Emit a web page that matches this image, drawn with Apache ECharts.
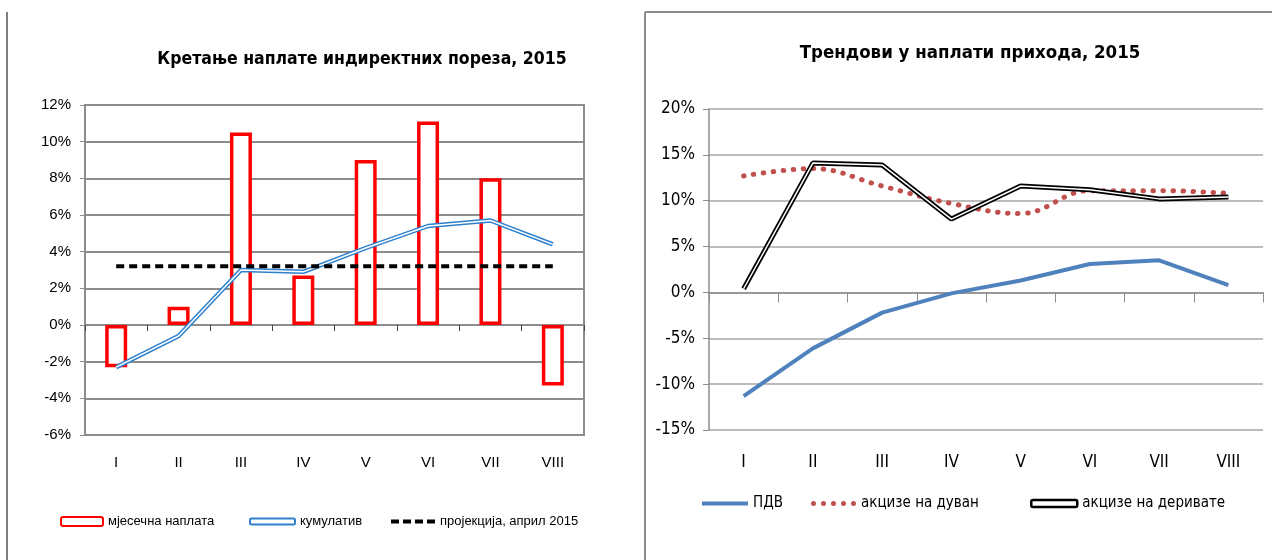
<!DOCTYPE html>
<html>
<head>
<meta charset="utf-8">
<script src="https://cdn.jsdelivr.net/npm/echarts@6/dist/echarts.min.js"></script>
<style>
html, body { margin: 0; padding: 0; background: #fff; }
#main { width: 1272px; height: 560px; }
</style>
</head>
<body>
<div id="main"></div>
<script>
var myChart = echarts.init(document.getElementById('main'));

// months (both charts)
var months = ['I', 'II', 'III', 'IV', 'V', 'VI', 'VII', 'VIII'];
// left chart
var monthly = [-2.3, 1.0, 10.5, 2.7, 9.0, 11.1, 8.0, -3.3];
var cumulative = [-2.3, -0.6, 3.0, 2.9, 4.2, 5.4, 5.7, 4.4];
var projection = [3.2, 3.2, 3.2, 3.2, 3.2, 3.2, 3.2, 3.2];
// right chart
var vat = [-11.3, -6.1, -2.2, -0.1, 1.3, 3.1, 3.5, 0.8];
var tobacco = [12.7, 13.5, 11.6, 9.7, 8.6, 11.1, 11.1, 10.8];
var fuel = [0.4, 14.1, 13.9, 8.0, 11.6, 11.2, 10.2, 10.4];

var leftNames = ['мјесечна наплата', 'кумулатив', 'пројекција, април 2015'];
var rightNames = ['ПДВ', 'акцизе на дуван', 'акцизе на деривате'];

var narrow = '"Liberation Sans Narrow", "Arial Narrow", "DejaVu Sans Condensed", sans-serif';
var arial = '"Liberation Sans", Arial, sans-serif';
var gridGray = '#8c8c8c';

// legend icons drawn as paths (dashes / dots)
var dashIcon = 'path://M0,0h8v4h-8z M12,0h8v4h-8z M24,0h8v4h-8z M36,0h8v4h-8z';
var dotIcon = 'path://';
for (var k = 0; k < 5; k++) {
    var cx = 2.5 + k * 10;
    dotIcon += 'M' + (cx - 2.5) + ',2.5a2.5,2.5 0 1,0 5,0a2.5,2.5 0 1,0 -5,0z ';
}

var option = {
    backgroundColor: '#fff',
    animation: false,
    title: [{
        text: 'Кретање наплате индиректних пореза, 2015',
        left: 357,
        top: 45,
        textAlign: 'center',
        textStyle: { fontFamily: narrow, fontWeight: 'bold', fontSize: 17.5, color: '#000' }
    }, {
        text: 'Трендови у наплати прихода, 2015',
        left: 965,
        top: 39,
        textAlign: 'center',
        textStyle: { fontFamily: narrow, fontWeight: 'bold', fontSize: 18.5, color: '#000' }
    }],
    legend: [{
        data: [leftNames[0]], left: 55, top: 510, itemWidth: 42, itemHeight: 9,
        textStyle: { fontFamily: arial, fontSize: 13, color: '#000' }
    }, {
        data: [{ name: leftNames[1], icon: 'roundRect', itemStyle: { color: '#fff', borderColor: '#2e80cc', borderWidth: 2 } }],
        left: 244, top: 510, itemWidth: 45, itemHeight: 6,
        textStyle: { fontFamily: arial, fontSize: 13, color: '#000' }
    }, {
        data: [{ name: leftNames[2], icon: dashIcon }],
        left: 386, top: 510, itemWidth: 44, itemHeight: 4,
        textStyle: { fontFamily: arial, fontSize: 13, color: '#000' }
    }, {
        data: [{ name: rightNames[0], icon: 'rect' }],
        left: 697, top: 491, itemWidth: 46, itemHeight: 4,
        textStyle: { fontFamily: narrow, fontSize: 15, color: '#000' }
    }, {
        data: [{ name: rightNames[1], icon: dotIcon }],
        left: 806, top: 491, itemWidth: 45, itemHeight: 5,
        textStyle: { fontFamily: narrow, fontSize: 15, color: '#000' }
    }, {
        data: [{ name: rightNames[2], icon: 'roundRect', itemStyle: { color: '#fff', borderColor: '#000', borderWidth: 2.5 } }],
        left: 1025, top: 491, itemWidth: 46, itemHeight: 7,
        textStyle: { fontFamily: narrow, fontSize: 15, color: '#000' }
    }],
    grid: [{
        left: 85, top: 105, width: 499, height: 330,
        show: true, borderColor: gridGray, borderWidth: 2, backgroundColor: '#fff'
    }, {
        left: 709, top: 109, width: 554, height: 321
    }],
    xAxis: [{
        gridIndex: 0, type: 'category', data: months,
        axisLine: { onZero: true, lineStyle: { color: gridGray, width: 2 } },
        axisTick: { show: true, length: 6, lineStyle: { color: '#444', width: 1 } },
        axisLabel: { show: false }
    }, {
        gridIndex: 0, type: 'category', data: months, position: 'bottom',
        axisLine: { show: false, onZero: false },
        axisTick: { show: false },
        axisLabel: { margin: 20, fontFamily: arial, fontSize: 15, color: '#000' }
    }, {
        gridIndex: 1, type: 'category', data: months,
        axisLine: { onZero: true, lineStyle: { color: gridGray, width: 1.5 } },
        axisTick: { show: true, length: 10, lineStyle: { color: gridGray, width: 1 } },
        axisLabel: { margin: 24, fontFamily: narrow, fontSize: 17, color: '#000' }
    }],
    yAxis: [{
        gridIndex: 0, type: 'value', min: -6, max: 12, interval: 2,
        axisLine: { show: true, lineStyle: { color: gridGray, width: 2 } },
        axisTick: { show: true, length: 5, lineStyle: { color: gridGray } },
        axisLabel: { formatter: '{value}%', margin: 14, fontFamily: arial, fontSize: 15, color: '#000' },
        splitLine: { lineStyle: { color: gridGray, width: 2 } }
    }, {
        gridIndex: 1, type: 'value', min: -15, max: 20, interval: 5,
        axisLine: { show: true, lineStyle: { color: gridGray, width: 1.5 } },
        axisTick: { show: true, length: 6, lineStyle: { color: gridGray } },
        axisLabel: { formatter: '{value}%', margin: 14, fontFamily: narrow, fontSize: 17, color: '#000' },
        splitLine: { lineStyle: { color: '#a6a6a6', width: 1.5 } }
    }],
    graphic: [
        { type: 'line', shape: { x1: 7, y1: 12, x2: 7, y2: 560 }, style: { stroke: '#7f7f7f', lineWidth: 2 } },
        { type: 'line', shape: { x1: 645, y1: 12, x2: 1272, y2: 12 }, style: { stroke: '#8c8c8c', lineWidth: 2 } },
        { type: 'line', shape: { x1: 645, y1: 12, x2: 645, y2: 560 }, style: { stroke: '#8c8c8c', lineWidth: 2 } }
    ],
    series: [
        {
            name: leftNames[0], type: 'bar', xAxisIndex: 0, yAxisIndex: 0,
            barWidth: 22,
            itemStyle: { color: '#fff', borderColor: '#ff0000', borderWidth: 3.5 },
            data: monthly
        },
        {
            name: leftNames[1], type: 'line', xAxisIndex: 0, yAxisIndex: 0,
            symbol: 'none', lineStyle: { color: '#2e80cc', width: 4.5 },
            itemStyle: { color: '#2e80cc' },
            data: cumulative
        },
        {
            name: leftNames[1], type: 'line', xAxisIndex: 0, yAxisIndex: 0,
            symbol: 'none', lineStyle: { color: '#fff', width: 1.5 },
            data: cumulative
        },
        {
            name: leftNames[2], type: 'line', xAxisIndex: 0, yAxisIndex: 0,
            symbol: 'none', lineStyle: { color: '#000', width: 4, type: [8, 5] },
            itemStyle: { color: '#000' },
            data: projection
        },
        {
            name: rightNames[0], type: 'line', xAxisIndex: 2, yAxisIndex: 1,
            symbol: 'none', lineStyle: { color: '#4f81bd', width: 4 },
            itemStyle: { color: '#4f81bd' },
            data: vat
        },
        {
            name: rightNames[1], type: 'line', xAxisIndex: 2, yAxisIndex: 1,
            symbol: 'none', smooth: 0.4,
            lineStyle: { color: '#c0504d', width: 5, type: [0.5, 9.5], cap: 'round' },
            itemStyle: { color: '#c0504d' },
            data: tobacco
        },
        {
            name: rightNames[2], type: 'line', xAxisIndex: 2, yAxisIndex: 1,
            symbol: 'none', lineStyle: { color: '#000', width: 5 },
            itemStyle: { color: '#000' },
            data: fuel
        },
        {
            name: rightNames[2], type: 'line', xAxisIndex: 2, yAxisIndex: 1,
            symbol: 'none', lineStyle: { color: '#fff', width: 1.5 },
            data: fuel
        }
    ]
};

myChart.setOption(option);
</script>
</body>
</html>
